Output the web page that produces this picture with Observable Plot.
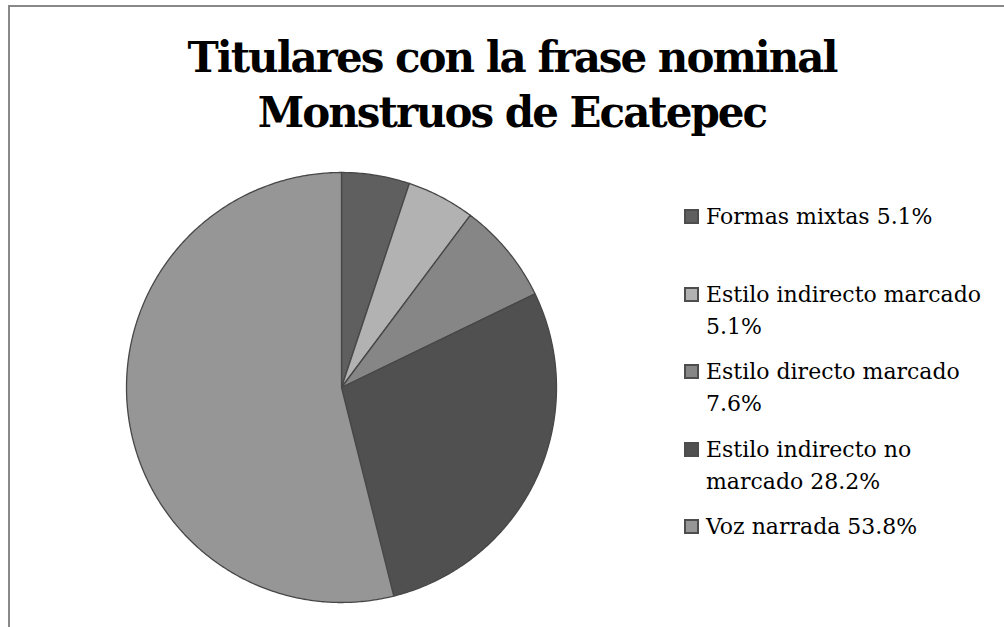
<!DOCTYPE html>
<html><head><meta charset="utf-8">
<script src="https://cdn.jsdelivr.net/npm/d3@7"></script>
<script src="https://cdn.jsdelivr.net/npm/@observablehq/plot@0.6"></script>
<style>
body{margin:0;background:#fff}
#wrap{position:relative;width:1004px;height:627px;overflow:hidden;background:#fff}
#frame{position:absolute;left:8px;top:5px;width:1200px;height:800px;border:2px solid #888;box-sizing:border-box}
#title{position:absolute;left:112px;width:800px;top:30px;text-align:center;font-family:"DejaVu Serif",serif;font-weight:bold;font-size:42px;line-height:55px;letter-spacing:-2px;color:#000;margin:0}
#chart{position:absolute;left:121px;top:167px}
.item{position:absolute;left:684px;font-family:"DejaVu Serif",serif;font-size:22px;line-height:32px;color:#000;display:flex;align-items:flex-start}
.sw{width:11px;height:11px;border:2px solid #4d4d4d;margin-top:8px;margin-right:7px;flex:none}
.lbl{max-width:290px}
</style></head>
<body>
<div id="wrap">
  <div id="frame"></div>
  <div id="title">Titulares con la frase nominal<br>Monstruos de Ecatepec</div>
  <div id="chart"></div>
  <div id="legend"></div>
</div>
<script>
const categories = ["Formas mixtas","Estilo indirecto marcado","Estilo directo marcado","Estilo indirecto no marcado","Voz narrada"];
const values = [5.1, 5.1, 7.6, 28.2, 53.8];
const colors = ["#5f5f5f","#b2b2b2","#868686","#505050","#969696"];

// slice outlines from the pie layout (unit circle, clockwise from 12 o'clock)
const arcs = d3.pie().sort(null).startAngle(0).endAngle(2*Math.PI)(values);
const slices = arcs.map((a, i) => {
  const pts = [{cat: categories[i], x: 0, y: 0}];
  const n = Math.max(2, Math.ceil((a.endAngle - a.startAngle) / 0.01));
  for (let k = 0; k <= n; k++) {
    const t = a.startAngle + (a.endAngle - a.startAngle) * k / n;
    pts.push({cat: categories[i], x: Math.sin(t), y: Math.cos(t)});
  }
  pts.push({cat: categories[i], x: 0, y: 0});
  return pts;
});

const chart = Plot.plot({
  width: 440, height: 440, margin: 5,
  x: {domain: [-1, 1], axis: null},
  y: {domain: [-1, 1], axis: null},
  marks: slices.map((pts, i) => Plot.line(pts, {
    x: "x", y: "y", fill: colors[i], stroke: "#474747", strokeWidth: 1.3,
    strokeLinejoin: "round", curve: "linear"
  }))
});
document.getElementById("chart").appendChild(chart);

const legend = document.getElementById("legend");
categories.forEach((c, i) => {
  const it = document.createElement("div");
  it.className = "item";
  it.style.top = (201 + i * 77.5) + "px";
  const sw = document.createElement("div");
  sw.className = "sw";
  sw.style.background = colors[i];
  const lb = document.createElement("div");
  lb.className = "lbl";
  lb.textContent = c + " " + values[i].toFixed(1) + "%";
  it.appendChild(sw); it.appendChild(lb);
  legend.appendChild(it);
});
</script>
</body></html>
